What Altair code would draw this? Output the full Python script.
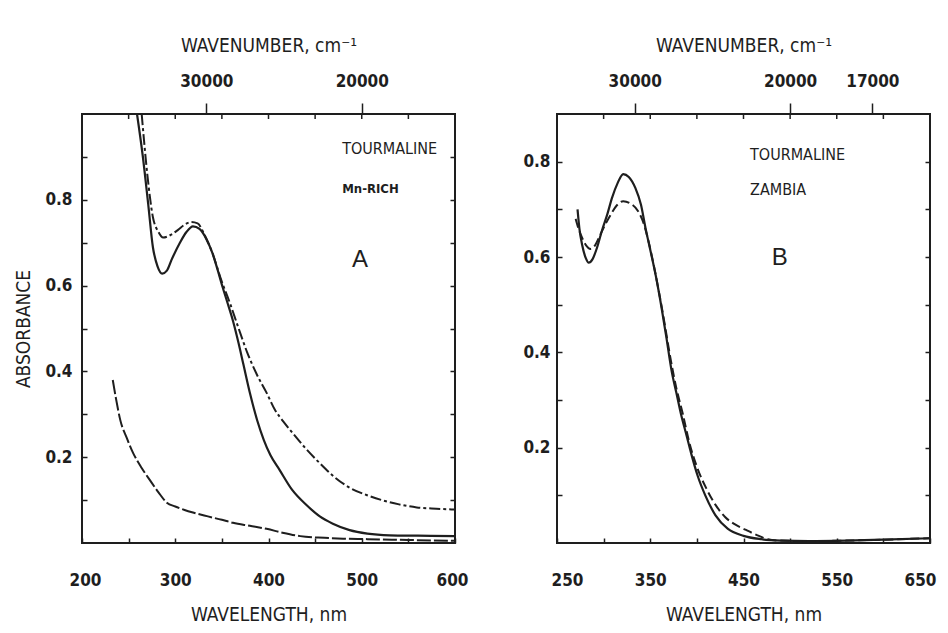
import altair as alt
import pandas as pd

# ---------------- Panel A (Mn-rich tourmaline) ----------------
a_solid_wl = [259, 265, 271, 276, 281, 286, 291, 296, 305, 312, 319, 326, 333, 340, 345, 351, 356, 362,
              368, 373, 380, 388, 395, 402, 412, 425, 441, 455, 469, 487, 506, 530, 560, 600]
a_solid_ab = [1.00, 0.905, 0.79, 0.69, 0.645, 0.628, 0.635, 0.66, 0.70, 0.725, 0.738, 0.732, 0.71, 0.675,
              0.64, 0.595, 0.56, 0.517, 0.465, 0.417, 0.35, 0.285, 0.24, 0.205, 0.17, 0.125, 0.088, 0.062,
              0.045, 0.030, 0.022, 0.018, 0.017, 0.016]

a_dashdot_wl = [264, 270, 276, 282, 287, 295, 303, 310, 317, 324, 331, 340, 349, 359, 368, 377, 387, 398,
                407, 416, 426, 440, 455, 470, 487, 505, 523, 540, 559, 580, 600]
a_dashdot_ab = [1.00, 0.86, 0.76, 0.725, 0.712, 0.718, 0.73, 0.742, 0.748, 0.745, 0.72, 0.675, 0.615, 0.557,
                0.50, 0.445, 0.395, 0.35, 0.31, 0.283, 0.256, 0.22, 0.186, 0.155, 0.129, 0.112, 0.099, 0.09,
                0.083, 0.080, 0.078]

a_dash_wl = [233, 237, 241, 248, 255, 264, 273, 282, 291, 300, 310, 319, 335, 350, 362, 380, 398, 415,
             434, 460, 480, 506, 550, 600]
a_dash_ab = [0.38, 0.33, 0.287, 0.245, 0.209, 0.175, 0.146, 0.118, 0.094, 0.085, 0.077, 0.071, 0.062, 0.054,
             0.047, 0.040, 0.033, 0.024, 0.016, 0.012, 0.010, 0.009, 0.007, 0.005]

a_x_ticks = [200, 250, 300, 350, 400, 450, 500, 550, 600]
a_top_minor = [250, 300, 350, 400, 450, 500, 550]
a_wavenumbers = [30000, 20000]
a_y_ticks = [0.1, 0.2, 0.3, 0.4, 0.5, 0.6, 0.7, 0.8, 0.9]

a_text1 = ["TOURMALINE"]; a_text1_wl = [479]; a_text1_ab = [0.918]
a_text2 = ["Mn-RICH"]; a_text2_wl = [479]; a_text2_ab = [0.825]
a_text3 = ["A"]; a_text3_wl = [498]; a_text3_ab = [0.66]

# ---------------- Panel B (Zambia tourmaline) ----------------
b_solid_wl = [272, 274, 277, 281, 284, 288, 293, 298, 304, 309, 315, 321, 327, 334, 340, 345, 350, 356,
              362, 367, 373, 378, 383, 389, 394, 401, 409, 420, 433, 450, 469, 490, 520, 560, 600, 650]
b_solid_ab = [0.70, 0.66, 0.625, 0.597, 0.588, 0.595, 0.62, 0.654, 0.69, 0.724, 0.755, 0.774, 0.768, 0.745,
              0.71, 0.66, 0.615, 0.56, 0.495, 0.435, 0.36, 0.315, 0.27, 0.225, 0.187, 0.14, 0.10, 0.058,
              0.030, 0.015, 0.008, 0.005, 0.004, 0.005, 0.007, 0.010]

b_dash_wl = [270, 273, 277, 281, 286, 291, 296, 302, 308, 314, 321, 328, 337, 343, 348, 353, 359, 365,
             371, 378, 385, 392, 400, 410, 420, 430, 440, 452, 465, 476, 490, 520, 560, 600, 650]
b_dash_ab = [0.68, 0.66, 0.64, 0.625, 0.617, 0.625, 0.645, 0.669, 0.69, 0.708, 0.717, 0.713, 0.696, 0.67,
             0.634, 0.59, 0.53, 0.465, 0.395, 0.325, 0.27, 0.21, 0.16, 0.115, 0.08, 0.055, 0.04, 0.028,
             0.016, 0.008, 0.005, 0.004, 0.005, 0.007, 0.010]

b_x_ticks = [250, 300, 350, 400, 450, 500, 550, 600, 650]
b_top_minor = [300, 350, 400, 450, 500, 550, 600]
b_wavenumbers = [30000, 20000, 17000]
b_y_ticks = [0.1, 0.2, 0.3, 0.4, 0.5, 0.6, 0.7, 0.8]

b_text1 = ["TOURMALINE"]; b_text1_wl = [457]; b_text1_ab = [0.815]
b_text2 = ["ZAMBIA"]; b_text2_wl = [457]; b_text2_ab = [0.74]
b_text3 = ["B"]; b_text3_wl = [489]; b_text3_ab = [0.598]

INK = "#1e1e1e"
NARROW = "DejaVu Sans Condensed, Liberation Sans Narrow, sans-serif"
PLAIN = "Liberation Sans, Arial, sans-serif"
W, H = 373, 429
LBL = 17
TTL = 19


def panel(xdom, ydom, curves, x_ticks, lbl_mod, flush_off, top_minor, wavenumbers, y_ticks, texts,
          ytitle, left_pad):
    xs = alt.Scale(domain=xdom, nice=False, zero=False)
    ys = alt.Scale(domain=ydom, nice=False, zero=False)

    bottom_axis = alt.Axis(
        orient="bottom",
        values=x_ticks, labelExpr=f"datum.value % 100 == {lbl_mod} ? datum.label : ''",
        format="d", tickSize=5, offset=-5, domain=False, grid=False, tickColor=INK, tickWidth=1.5,
        labelFont=NARROW, labelFontSize=LBL, labelFontWeight="bold", labelColor=INK, labelPadding=29,
        labelFlush=True, labelFlushOffset=flush_off, labelOverlap=False,
        title="WAVELENGTH, nm", titleFont=NARROW, titleFontSize=TTL, titleFontWeight="normal",
        titleColor=INK, titlePadding=17)
    left_axis = alt.Axis(
        orient="left",
        values=y_ticks,
        labelExpr="(round(datum.value*10) % 2 == 0) ? format(datum.value, '.1f') : ''",
        tickSize=5, offset=-5, domain=False, grid=False, tickColor=INK, tickWidth=1.5,
        labelFont=NARROW, labelFontSize=LBL, labelFontWeight="bold", labelColor=INK, labelPadding=left_pad,
        labelOverlap=False, labelFlush=False,
        title=ytitle, titleFont=NARROW, titleFontSize=TTL, titleFontWeight="normal", titleColor=INK,
        titlePadding=11)
    top_axis = alt.Axis(
        orient="top", values=[1e7 / w for w in wavenumbers],
        labelExpr="format(round(1e7/datum.value), 'd')",
        tickSize=11, domain=False, grid=False, tickColor=INK, tickWidth=1.5,
        labelFont=NARROW, labelFontSize=LBL, labelFontWeight="bold", labelColor=INK, labelPadding=13,
        labelFlush=False, labelOverlap=False,
        title="WAVENUMBER, cm⁻¹", titleFont=NARROW, titleFontSize=TTL, titleFontWeight="normal",
        titleColor=INK, titlePadding=17)
    right_axis = alt.Axis(
        orient="right", values=y_ticks, labels=False, tickSize=5, offset=-5, domain=False, grid=False,
        tickColor=INK, tickWidth=1.5, title=None)

    layers = []
    for i, (wl, ab, dash, sw) in enumerate(curves):
        d = pd.DataFrame({"wl": wl, "ab": ab})
        props = dict(color=INK, strokeWidth=sw, clip=True, interpolate="monotone")
        if dash:
            props["strokeDash"] = dash
        if i == 0:
            xa, ya = bottom_axis, left_axis
        elif i == 1:
            xa, ya = top_axis, right_axis
        else:
            xa, ya = None, None
        layers.append(alt.Chart(d).mark_line(**props).encode(
            x=alt.X("wl:Q", scale=xs, axis=xa),
            y=alt.Y("ab:Q", scale=ys, axis=ya)))

    ticks_df = pd.DataFrame({"t": top_minor})
    layers.append(alt.Chart(ticks_df).mark_rule(color=INK, strokeWidth=1.5).encode(
        x=alt.X("t:Q", scale=xs, axis=None), y=alt.value(0), y2=alt.value(5)))

    for (txt, wl, ab, font, size, weight, align) in texts:
        d = pd.DataFrame({"txt": txt, "wl": wl, "ab": ab})
        layers.append(alt.Chart(d).mark_text(
            font=font, fontSize=size, fontWeight=weight, align=align, baseline="middle", color=INK
        ).encode(x=alt.X("wl:Q", scale=xs, axis=None), y=alt.Y("ab:Q", scale=ys, axis=None), text="txt:N"))

    return alt.layer(*layers).resolve_axis(x="independent", y="independent").properties(width=W, height=H)


panel_a = panel(
    [200, 600], [0, 1.0],
    [(a_solid_wl, a_solid_ab, None, 2.2),
     (a_dashdot_wl, a_dashdot_ab, [11, 3, 3, 3], 2.0),
     (a_dash_wl, a_dash_ab, [14, 3], 2.0)],
    a_x_ticks, 0, 13, a_top_minor, a_wavenumbers, a_y_ticks,
    [(a_text1, a_text1_wl, a_text1_ab, NARROW, 16, "normal", "left"),
     (a_text2, a_text2_wl, a_text2_ab, NARROW, 13, "bold", "left"),
     (a_text3, a_text3_wl, a_text3_ab, PLAIN, 24, "normal", "center")],
    "ABSORBANCE", 10)

panel_b = panel(
    [250, 650], [0, 0.9],
    [(b_solid_wl, b_solid_ab, None, 2.2),
     (b_dash_wl, b_dash_ab, [9, 4], 2.0)],
    b_x_ticks, 50, 6, b_top_minor, b_wavenumbers, b_y_ticks,
    [(b_text1, b_text1_wl, b_text1_ab, NARROW, 16, "normal", "left"),
     (b_text2, b_text2_wl, b_text2_ab, NARROW, 16, "normal", "left"),
     (b_text3, b_text3_wl, b_text3_ab, PLAIN, 24, "normal", "center")],
    None, 7)

chart = alt.hconcat(panel_a, panel_b, spacing=52).properties(
    padding={"left": 5, "top": 27, "right": 0, "bottom": 0}, background="white"
).configure_view(stroke=INK, strokeWidth=2)

chart.save("out.html", embed_options={"renderer": "svg", "actions": False})
